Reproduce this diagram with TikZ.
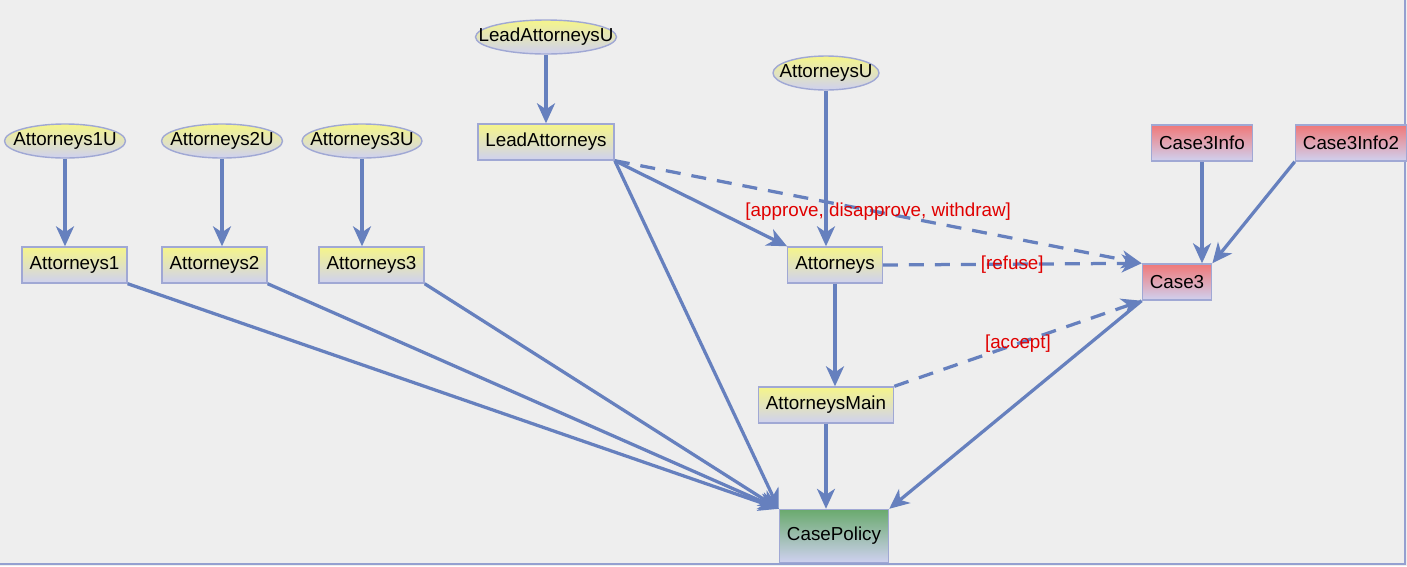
\documentclass[tikz,border=0pt]{standalone}
\usepackage{fontspec}
\setmainfont{Liberation Sans}
\usetikzlibrary{positioning, shapes.geometric, arrows.meta}

\definecolor{bgcol}{HTML}{EEEEEE}
\definecolor{edgecol}{HTML}{6680BE}
\definecolor{bordercol}{HTML}{A0A8D4}
\definecolor{yellowtop}{HTML}{F5F58A}
\definecolor{lavbottom}{HTML}{CFD1F0}
\definecolor{redtop}{HTML}{F07878}
\definecolor{greentop}{HTML}{6AAA6E}
\definecolor{lblcol}{HTML}{E00000}

\tikzset{
    role/.style={rectangle, draw=bordercol, thick, top color=yellowtop, bottom color=lavbottom,
        inner xsep=1.5mm, inner ysep=0pt, minimum height=7.2mm},
    caseinfo/.style={role, top color=redtop},
    policy/.style={role, top color=greentop, minimum height=10.6mm},
    ucase/.style={ellipse, draw=bordercol, thick, top color=yellowtop, bottom color=lavbottom,
        inner sep=0pt, minimum height=6.8mm},
    link/.style={edgecol, line width=0.65mm, -{Stealth[length=4mm, width=3.6mm, inset=1.2mm]}},
    dlink/.style={link, dash pattern=on 3mm off 2.2mm},
    lbl/.style={text=lblcol, fill=none, inner sep=1pt}
}
\newcommand{\utext}[1]{\makebox[0pt]{#1}}

\begin{document}
\begin{tikzpicture}[x=0.2mm, y=-0.2mm, font=\fontsize{10.7}{12}\selectfont]
    \useasboundingbox (0,0) rectangle (1407,566);
    \fill[bgcol] (0,0) rectangle (1407,566);
    \draw[bordercol!80!edgecol, line width=0.4mm] (0,564) -- (1405,564) -- (1405,0);

    % users
    \node[ucase, minimum width=24.2mm] (a1u) at (65,141) {\utext{Attorneys1U}};
    \node[ucase, minimum width=24.2mm] (a2u) at (222,141) {\utext{Attorneys2U}};
    \node[ucase, minimum width=24mm] (a3u) at (362,141) {\utext{Attorneys3U}};
    \node[ucase, minimum width=28.2mm] (leadu) at (546,37) {\utext{LeadAttorneysU}};
    \node[ucase, minimum width=21.2mm] (attu) at (826,73) {\utext{AttorneysU}};

    % roles
    \node[role] (a1) at (74.5,265) {Attorneys1};
    \node[role] (a2) at (214.5,265) {Attorneys2};
    \node[role] (a3) at (371.5,265) {Attorneys3};
    \node[role] (lead) at (546,142) {LeadAttorneys};
    \node[role] (att) at (835,265) {Attorneys};
    \node[role] (attmain) at (826,405) {AttorneysMain};
    \node[policy] (cp) at (834,536) {CasePolicy};

    % case
    \node[caseinfo] (info) at (1202,143) {Case3Info};
    \node[caseinfo] (info2) at (1351,143) {Case3Info2};
    \node[caseinfo] (c3) at (1177,282) {Case3};

    \draw[link] (a1u.south) -- (a1u.south |- a1.north);
    \draw[link] (a2u.south) -- (a2u.south |- a2.north);
    \draw[link] (a3u.south) -- (a3u.south |- a3.north);
    \draw[link] (leadu) -- (lead);
    \draw[link] (attu.south) -- (attu.south |- att.north);

    \draw[link] (a1.south east) -- (cp.north west);
    \draw[link] (a2.south east) -- (cp.north west);
    \draw[link] (a3.south east) -- (cp.north west);
    \draw[link] (lead.south east) -- (cp.north west);
    \draw[link] (lead.south east) -- (att.north west);
    \draw[link] (att.south) -- (att.south |- attmain.north);
    \draw[link] (attmain.south) -- (attmain.south |- cp.north);
    \draw[link] (c3.south west) -- (cp.north east);
    \draw[link] (info) -- (info |- c3.north);
    \draw[link] (info2.south west) -- (c3.north east);

    \draw[dlink] (lead.south east) -- (c3.north west)
        node[lbl, pos=0.5] {[approve, disapprove, withdraw]};
    \draw[dlink] (att.east) -- (c3.north west)
        node[lbl, pos=0.5] {[refuse]};
    \draw[dlink] (attmain.north east) -- (c3.south west)
        node[lbl, pos=0.5] {[accept]};
\end{tikzpicture}
\end{document}
